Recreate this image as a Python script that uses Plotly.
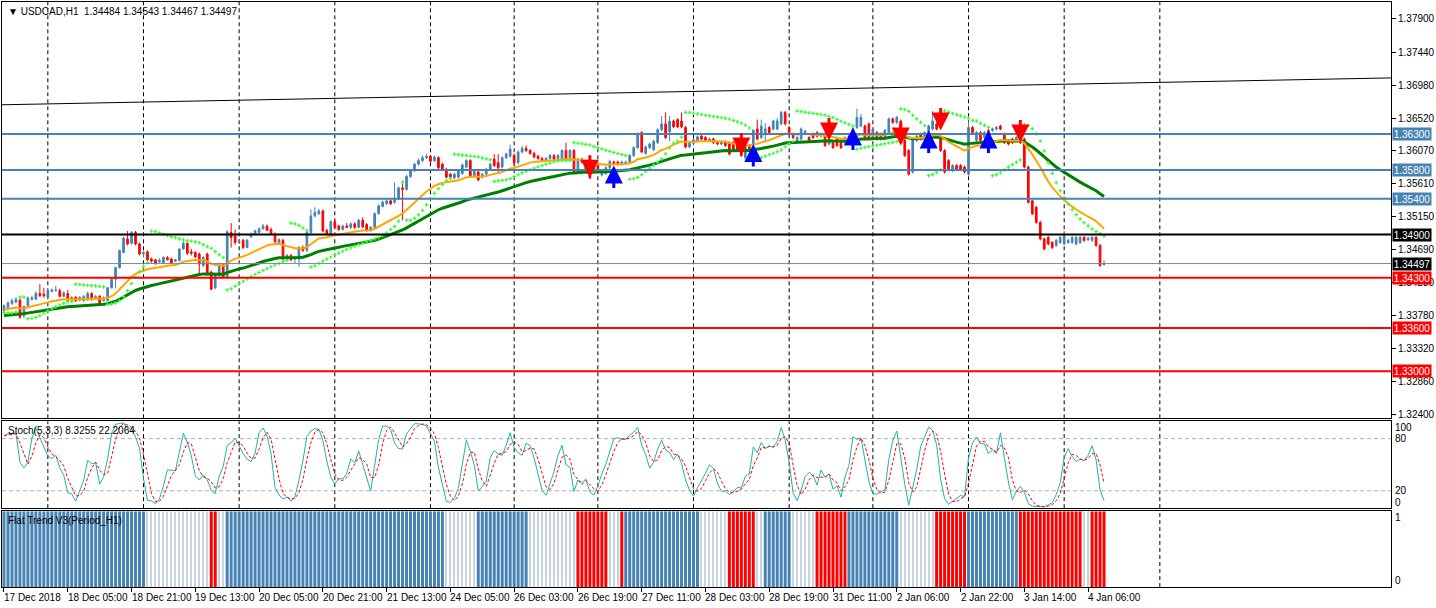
import plotly.graph_objects as go

# ---------------- data (USDCAD H1) ----------------
opens = [
1.3384,1.3388,1.3394,1.3396,1.3399,1.3377,1.3391,1.3400,1.3400,1.3408,
1.3407,1.3403,1.3411,1.3412,1.3412,1.3404,1.3408,1.3402,1.3403,1.3399,
1.3398,1.3399,1.3408,1.3401,1.3404,1.3398,1.3398,1.3416,1.3428,1.3444,
1.3465,1.3484,1.3478,1.3493,1.3477,1.3463,1.3466,1.3456,1.3455,1.3452,
1.3450,1.3458,1.3456,1.3453,1.3454,1.3470,1.3478,1.3466,1.3465,1.3463,
1.3447,1.3463,1.3438,1.3416,1.3433,1.3448,1.3431,1.3493,1.3488,1.3479,
1.3482,1.3472,1.3487,1.3491,1.3493,1.3498,1.3502,1.3497,1.3491,1.3477,
1.3482,1.3456,1.3461,1.3456,1.3456,1.3472,1.3468,1.3493,1.3516,1.3519,
1.3523,1.3496,1.3491,1.3508,1.3502,1.3497,1.3502,1.3500,1.3505,1.3500,
1.3510,1.3504,1.3496,1.3500,1.3519,1.3529,1.3533,1.3537,1.3535,1.3540,
1.3555,1.3553,1.3571,1.3579,1.3588,1.3593,1.3597,1.3599,1.3593,1.3597,
1.3588,1.3581,1.3574,1.3569,1.3570,1.3575,1.3584,1.3593,1.3572,1.3577,
1.3570,1.3574,1.3581,1.3595,1.3590,1.3584,1.3597,1.3599,1.3600,1.3590,
1.3605,1.3610,1.3607,1.3603,1.3599,1.3596,1.3593,1.3596,1.3600,1.3596,
1.3595,1.3607,1.3595,1.3607,1.3577,1.3595,1.3591,1.3588,1.3586,1.3586,
1.3573,1.3575,1.3583,1.3591,1.3591,1.3588,1.3589,1.3591,1.3600,1.3611,
1.3632,1.3603,1.3611,1.3608,1.3618,1.3636,1.3644,1.3633,1.3648,1.3650,
1.3648,1.3639,1.3612,1.3617,1.3621,1.3627,1.3625,1.3621,1.3623,1.3618,
1.3616,1.3619,1.3618,1.3618,1.3616,1.3623,1.3597,1.3614,1.3616,1.3637,
1.3625,1.3632,1.3639,1.3637,1.3637,1.3644,1.3660,1.3639,1.3630,1.3621,
1.3623,1.3632,1.3625,1.3630,1.3632,1.3627,1.3630,1.3616,1.3618,1.3623,
1.3621,1.3618,1.3627,1.3627,1.3639,1.3641,1.3641,1.3644,1.3625,1.3632,
1.3630,1.3623,1.3632,1.3651,1.3646,1.3648,1.3621,1.3607,1.3577,1.3621,
1.3630,1.3627,1.3627,1.3637,1.3644,1.3625,1.3607,1.3593,1.3579,1.3586,
1.3586,1.3584,1.3574,1.3639,1.3621,1.3632,1.3625,1.3635,1.3635,1.3637,
1.3641,1.3630,1.3621,1.3623,1.3621,1.3625,1.3623,1.3584,1.3537,1.3528,
1.3507,1.3484,1.3486,1.3479,1.3475,1.3479,1.3477,1.3479,1.3479,1.3477,
1.3479,1.3486,1.3483,1.3482,1.3486,1.3475,1.34484]

highs = [
1.3393,1.3397,1.3401,1.3403,1.3401,1.3391,1.3404,1.3405,1.3411,1.3421,
1.3416,1.3413,1.3415,1.3419,1.3415,1.3411,1.3413,1.3404,1.3404,1.3404,
1.3406,1.3411,1.3410,1.3406,1.3406,1.3404,1.3417,1.3430,1.3445,1.3469,
1.3487,1.3495,1.3495,1.3495,1.3479,1.3467,1.3468,1.3458,1.3456,1.3457,
1.3460,1.3460,1.3458,1.3456,1.3471,1.3481,1.3480,1.3470,1.3467,1.3465,
1.3460,1.3465,1.3440,1.3436,1.3451,1.3450,1.3496,1.3506,1.3497,1.3484,
1.3484,1.3484,1.3493,1.3497,1.3500,1.3505,1.3504,1.3500,1.3493,1.3485,
1.3484,1.3463,1.3463,1.3460,1.3474,1.3475,1.3495,1.3525,1.3528,1.3526,
1.3525,1.3498,1.3510,1.3511,1.3504,1.3504,1.3506,1.3507,1.3507,1.3512,
1.3514,1.3506,1.3502,1.3521,1.3532,1.3537,1.3540,1.3539,1.3563,1.3557,
1.3565,1.3573,1.3581,1.3590,1.3596,1.3600,1.3602,1.3601,1.3600,1.3599,
1.3590,1.3583,1.3576,1.3576,1.3580,1.3589,1.3595,1.3595,1.3580,1.3579,
1.3576,1.3583,1.3590,1.3602,1.3602,1.3599,1.3604,1.3615,1.3603,1.3607,
1.3613,1.3614,1.3609,1.3605,1.3601,1.3598,1.3598,1.3602,1.3602,1.3602,
1.3609,1.3618,1.3609,1.3609,1.3597,1.3597,1.3593,1.3590,1.3588,1.3588,
1.3579,1.3585,1.3594,1.3593,1.3593,1.3593,1.3593,1.3602,1.3613,1.3632,
1.3634,1.3614,1.3618,1.3622,1.3638,1.3655,1.3660,1.3655,1.3650,1.3652,
1.3660,1.3641,1.3619,1.3624,1.3628,1.3629,1.3627,1.3625,1.3625,1.3620,
1.3620,1.3621,1.3620,1.3620,1.3618,1.3625,1.3616,1.3616,1.3637,1.3650,
1.3650,1.3645,1.3641,1.3650,1.3652,1.3662,1.3662,1.3641,1.3632,1.3627,
1.3639,1.3636,1.3627,1.3632,1.3634,1.3632,1.3632,1.3625,1.3620,1.3625,
1.3623,1.3627,1.3629,1.3639,1.3665,1.3658,1.3643,1.3646,1.3639,1.3634,
1.3632,1.3637,1.3653,1.3653,1.3655,1.3650,1.3623,1.3609,1.3625,1.3629,
1.3632,1.3634,1.3643,1.3662,1.3646,1.3627,1.3609,1.3595,1.3588,1.3588,
1.3588,1.3586,1.3648,1.3641,1.3634,1.3634,1.3634,1.3637,1.3639,1.3641,
1.3643,1.3632,1.3623,1.3625,1.3627,1.3627,1.3625,1.3586,1.3539,1.3530,
1.3509,1.3486,1.3488,1.3481,1.3484,1.3488,1.3495,1.3484,1.3488,1.3488,
1.3488,1.3488,1.3487,1.3488,1.3488,1.3477,1.34543]

lows = [
1.3381,1.3386,1.3392,1.3395,1.3373,1.3374,1.3389,1.3398,1.3399,1.3403,
1.3402,1.3402,1.3410,1.3411,1.3403,1.3403,1.3397,1.3397,1.3396,1.3397,
1.3397,1.3398,1.3398,1.3399,1.3393,1.3397,1.3397,1.3415,1.3415,1.3443,
1.3464,1.3475,1.3476,1.3475,1.3461,1.3459,1.3453,1.3451,1.3448,1.3451,
1.3449,1.3454,1.3449,1.3452,1.3453,1.3469,1.3462,1.3461,1.3457,1.3433,
1.3445,1.3433,1.3413,1.3414,1.3431,1.3429,1.3429,1.3472,1.3476,1.3477,
1.3470,1.3471,1.3485,1.3489,1.3492,1.3497,1.3495,1.3490,1.3478,1.3476,
1.3454,1.3454,1.3453,1.3450,1.3445,1.3466,1.3466,1.3491,1.3514,1.3517,
1.3493,1.3489,1.3489,1.3498,1.3495,1.3496,1.3499,1.3498,1.3498,1.3499,
1.3499,1.3494,1.3494,1.3499,1.3518,1.3528,1.3531,1.3531,1.3533,1.3538,
1.3510,1.3551,1.3569,1.3577,1.3586,1.3591,1.3595,1.3590,1.3591,1.3581,
1.3579,1.3568,1.3568,1.3567,1.3568,1.3573,1.3582,1.3570,1.3570,1.3564,
1.3568,1.3572,1.3579,1.3584,1.3575,1.3582,1.3595,1.3597,1.3586,1.3588,
1.3603,1.3605,1.3601,1.3596,1.3594,1.3591,1.3591,1.3594,1.3593,1.3594,
1.3593,1.3593,1.3593,1.3575,1.3575,1.3589,1.3577,1.3567,1.3575,1.3579,
1.3571,1.3573,1.3581,1.3587,1.3586,1.3586,1.3587,1.3589,1.3598,1.3609,
1.3603,1.3601,1.3609,1.3606,1.3616,1.3634,1.3623,1.3620,1.3638,1.3638,
1.3638,1.3610,1.3610,1.3615,1.3619,1.3621,1.3619,1.3619,1.3616,1.3614,
1.3614,1.3612,1.3600,1.3605,1.3605,1.3598,1.3594,1.3605,1.3614,1.3621,
1.3623,1.3618,1.3630,1.3635,1.3635,1.3642,1.3642,1.3628,1.3623,1.3619,
1.3621,1.3630,1.3619,1.3623,1.3625,1.3625,1.3612,1.3614,1.3609,1.3612,
1.3609,1.3616,1.3619,1.3625,1.3637,1.3639,1.3621,1.3621,1.3623,1.3621,
1.3621,1.3621,1.3630,1.3644,1.3644,1.3616,1.3598,1.3572,1.3575,1.3619,
1.3621,1.3625,1.3625,1.3635,1.3635,1.3605,1.3575,1.3579,1.3577,1.3579,
1.3579,1.3575,1.3572,1.3630,1.3619,1.3619,1.3623,1.3616,1.3633,1.3635,
1.3635,1.3616,1.3614,1.3616,1.3619,1.3616,1.3582,1.3533,1.3517,1.3505,
1.3482,1.3468,1.3475,1.3470,1.3473,1.3477,1.3475,1.3477,1.3477,1.3475,
1.3477,1.3480,1.3481,1.3480,1.3473,1.3445,1.34467]

closes = [
1.3391,1.3395,1.3398,1.3400,1.3375,1.3390,1.3402,1.3402,1.3408,1.3405,
1.3405,1.3412,1.3413,1.3413,1.3404,1.3409,1.3398,1.3399,1.3398,1.3403,
1.3404,1.3408,1.3400,1.3404,1.3395,1.3402,1.3416,1.3428,1.3444,1.3468,
1.3485,1.3477,1.3493,1.3477,1.3463,1.3465,1.3455,1.3453,1.3450,1.3454,
1.3458,1.3455,1.3450,1.3455,1.3470,1.3478,1.3464,1.3464,1.3459,1.3449,
1.3458,1.3435,1.3414,1.3434,1.3449,1.3431,1.3494,1.3486,1.3479,1.3481,
1.3472,1.3482,1.3490,1.3495,1.3498,1.3502,1.3496,1.3491,1.3480,1.3483,
1.3456,1.3461,1.3455,1.3457,1.3472,1.3468,1.3493,1.3516,1.3521,1.3523,
1.3495,1.3491,1.3508,1.3500,1.3497,1.3502,1.3500,1.3505,1.3500,1.3510,
1.3501,1.3496,1.3500,1.3519,1.3530,1.3535,1.3537,1.3533,1.3540,1.3555,
1.3553,1.3571,1.3579,1.3588,1.3593,1.3597,1.3599,1.3592,1.3598,1.3583,
1.3581,1.3570,1.3570,1.3574,1.3578,1.3587,1.3593,1.3572,1.3578,1.3566,
1.3574,1.3581,1.3588,1.3586,1.3583,1.3597,1.3602,1.3609,1.3590,1.3605,
1.3610,1.3607,1.3603,1.3598,1.3596,1.3593,1.3596,1.3600,1.3595,1.3600,
1.3607,1.3595,1.3607,1.3577,1.3595,1.3591,1.3579,1.3569,1.3577,1.3581,
1.3577,1.3583,1.3592,1.3589,1.3588,1.3591,1.3591,1.3600,1.3611,1.3630,
1.3605,1.3612,1.3616,1.3620,1.3636,1.3644,1.3625,1.3648,1.3640,1.3640,
1.3640,1.3612,1.3617,1.3622,1.3626,1.3623,1.3621,1.3623,1.3618,1.3616,
1.3618,1.3614,1.3602,1.3607,1.3607,1.3600,1.3614,1.3607,1.3635,1.3623,
1.3641,1.3637,1.3632,1.3648,1.3648,1.3660,1.3644,1.3630,1.3625,1.3625,
1.3637,1.3634,1.3621,1.3625,1.3627,1.3630,1.3614,1.3623,1.3611,1.3614,
1.3611,1.3625,1.3621,1.3637,1.3653,1.3653,1.3623,1.3623,1.3637,1.3623,
1.3623,1.3635,1.3651,1.3646,1.3653,1.3618,1.3600,1.3574,1.3623,1.3627,
1.3623,1.3632,1.3641,1.3648,1.3637,1.3607,1.3577,1.3581,1.3586,1.3581,
1.3581,1.3577,1.3639,1.3632,1.3632,1.3621,1.3632,1.3618,1.3637,1.3639,
1.3637,1.3618,1.3616,1.3618,1.3625,1.3618,1.3584,1.3535,1.3519,1.3507,
1.3484,1.3470,1.3477,1.3472,1.3482,1.3486,1.3488,1.3482,1.3486,1.3486,
1.3486,1.3482,1.3485,1.3486,1.3475,1.3447,1.34497]

# time-axis labels (bar index -> label) and day separators (bar index)
label_idx = [0, 16, 32, 48, 64, 80, 96, 112, 128, 144, 160, 176, 192, 208, 224, 240, 256, 272]
label_text = ["17 Dec 2018", "18 Dec 05:00", "18 Dec 21:00", "19 Dec 13:00", "20 Dec 05:00",
              "20 Dec 21:00", "21 Dec 13:00", "24 Dec 05:00", "26 Dec 03:00", "26 Dec 19:00",
              "27 Dec 11:00", "28 Dec 03:00", "28 Dec 19:00", "31 Dec 11:00", "2 Jan 06:00",
              "2 Jan 22:00", "3 Jan 14:00", "4 Jan 06:00"]
day_start_idx = [11, 35, 59, 83, 107, 128, 149, 173, 197, 218, 242, 266, 290]

price_ticks = [1.37900, 1.37440, 1.36980, 1.36520, 1.36070, 1.35610, 1.35150,
               1.34690, 1.34230, 1.33780, 1.33320, 1.32860, 1.32400]

blue_levels = [1.36300, 1.35800, 1.35400]
black_levels = [1.34900]
red_levels = [1.34300, 1.33600, 1.33000]
bid_price = 1.34497

trend_x = [-0.5, 348]
trend_y = [1.36706, 1.37080]

up_arrow_idx = [153, 188, 213, 232, 247]
up_arrow_price = [1.3586, 1.3616, 1.3639, 1.3635, 1.3635]
down_arrow_idx = [147, 185, 207, 225, 235, 255]
down_arrow_price = [1.3569, 1.3600, 1.3621, 1.3614, 1.3635, 1.3618]

# Flat Trend V3 state per bar, run-length: b = up (blue), r = down (red), w = flat
trend_runs = [("b", 36), ("w", 16), ("r", 2), ("w", 2), ("b", 55), ("w", 8), ("b", 13),
              ("w", 12), ("r", 8), ("w", 3), ("r", 1), ("b", 19), ("w", 7), ("r", 7),
              ("w", 2), ("b", 7), ("w", 6), ("r", 8), ("b", 13), ("w", 9), ("r", 8),
              ("b", 13), ("r", 16), ("w", 2), ("r", 4)]

fast_period, slow_period = 21, 50
fast_seed, slow_seed = 1.3385, 1.3377

# ---------------- indicator calculations ----------------
n = len(closes)
assert len(opens) == len(highs) == len(lows) == n
x_idx = list(range(n))


def ema(vals, period, seed):
    a = 2.0 / (period + 1)
    out, prev = [], seed
    for v in vals:
        prev = prev + a * (v - prev)
        out.append(prev)
    return out


def psar(h, l, step=0.02, amax=0.2):
    out = [l[0]]
    bull, af, ep = True, step, h[0]
    for i in range(1, len(h)):
        prev = out[-1]
        s = prev + af * (ep - prev)
        if bull:
            s = min(s, l[i - 1], l[max(0, i - 2)])
            if l[i] < s:
                bull, s, ep, af = False, ep, l[i], step
            elif h[i] > ep:
                ep, af = h[i], min(af + step, amax)
        else:
            s = max(s, h[i - 1], h[max(0, i - 2)])
            if h[i] > s:
                bull, s, ep, af = True, ep, h[i], step
            elif l[i] < ep:
                ep, af = l[i], min(af + step, amax)
        out.append(s)
    return out


def stoch(h, l, c, kp=5, slow=3, dp=3):
    num, den = [], []
    for i in range(len(c)):
        lo = min(l[max(0, i - kp + 1):i + 1])
        hi = max(h[max(0, i - kp + 1):i + 1])
        num.append(c[i] - lo)
        den.append(hi - lo)
    k = []
    for i in range(len(c)):
        s = sum(num[max(0, i - slow + 1):i + 1])
        d = sum(den[max(0, i - slow + 1):i + 1])
        k.append(100 * s / d if d > 0 else 50)
    dd = []
    for i in range(len(c)):
        w = k[max(0, i - dp + 1):i + 1]
        dd.append(sum(w) / len(w))
    return k, dd


ema_fast = ema(closes, fast_period, fast_seed)
ema_slow = ema(closes, slow_period, slow_seed)
sar = psar(highs, lows)
stk, std = stoch(highs, lows, closes)

codes = []
for c, cnt in trend_runs:
    codes.extend([c] * cnt)

# ---------------- figure ----------------
BLUE = "#4682B4"
RED = "#FF0000"
FONT = "Liberation Sans"

fig = go.Figure()

fig.add_trace(go.Candlestick(
    x=x_idx, open=opens, high=highs, low=lows, close=closes,
    increasing=dict(line=dict(color=BLUE, width=1), fillcolor=BLUE),
    decreasing=dict(line=dict(color=RED, width=1), fillcolor=RED),
    whiskerwidth=0, xaxis="x", yaxis="y", hoverinfo="skip"))

fig.add_trace(go.Scatter(x=x_idx, y=ema_slow, mode="lines",
                         line=dict(color="#008000", width=3), xaxis="x", yaxis="y"))
fig.add_trace(go.Scatter(x=x_idx, y=ema_fast, mode="lines",
                         line=dict(color="#FFA500", width=2), xaxis="x", yaxis="y"))
fig.add_trace(go.Scatter(x=x_idx, y=sar, mode="markers",
                         marker=dict(symbol="cross", size=3, color="#33FF33"), xaxis="x", yaxis="y"))

# stochastic
fig.add_trace(go.Scatter(x=x_idx, y=stk, mode="lines",
                         line=dict(color="#20B2AA", width=1), xaxis="x2", yaxis="y2"))
fig.add_trace(go.Scatter(x=x_idx, y=std, mode="lines",
                         line=dict(color=RED, width=1, dash="3px,2px"), xaxis="x2", yaxis="y2"))

# flat trend histogram
bx = [i for i in x_idx if codes[i] == "b"]
rx = [i for i in x_idx if codes[i] == "r"]
wx = [i for i in x_idx if codes[i] == "w"]
fig.add_trace(go.Bar(x=bx, y=[1] * len(bx), marker=dict(color=BLUE, line=dict(width=0)),
                     width=0.75, xaxis="x3", yaxis="y3"))
fig.add_trace(go.Bar(x=rx, y=[1] * len(rx), marker=dict(color=RED, line=dict(width=0)),
                     width=0.75, xaxis="x3", yaxis="y3"))
fig.add_trace(go.Bar(x=wx, y=[1] * len(wx), marker=dict(color="#C8D4E0", line=dict(width=0)),
                     width=0.25, xaxis="x3", yaxis="y3"))

# ---------------- shapes ----------------
shapes = []
for d in day_start_idx:
    for yr in ("y domain", "y2 domain", "y3 domain"):
        shapes.append(dict(type="line", xref="x", yref=yr, x0=d, x1=d, y0=0, y1=1,
                           line=dict(color="black", width=1, dash="4px,3px"), layer="below"))
for lv in (80, 20):
    shapes.append(dict(type="line", xref="x2 domain", yref="y2", x0=0, x1=1, y0=lv, y1=lv,
                       line=dict(color="#B0B0B0", width=1, dash="4px,3px"), layer="below"))
shapes.append(dict(type="line", xref="x domain", yref="y", x0=0, x1=1, y0=bid_price, y1=bid_price,
                   line=dict(color="#778899", width=1)))
for lv in blue_levels:
    shapes.append(dict(type="line", xref="x domain", yref="y", x0=0, x1=1, y0=lv, y1=lv,
                       line=dict(color=BLUE, width=2)))
for lv in black_levels:
    shapes.append(dict(type="line", xref="x domain", yref="y", x0=0, x1=1, y0=lv, y1=lv,
                       line=dict(color="black", width=2)))
for lv in red_levels:
    shapes.append(dict(type="line", xref="x domain", yref="y", x0=0, x1=1, y0=lv, y1=lv,
                       line=dict(color=RED, width=2)))
shapes.append(dict(type="line", xref="x", yref="y", x0=trend_x[0], x1=trend_x[1],
                   y0=trend_y[0], y1=trend_y[1], line=dict(color="black", width=1)))

# ---------------- annotations ----------------
ann = []
ann.append(dict(xref="paper", yref="paper", x=0, y=1, xanchor="left", yanchor="top",
                xshift=4, yshift=-2, showarrow=False,
                text="\u25BC USDCAD,H1  1.34484 1.34543 1.34467 1.34497",
                font=dict(family=FONT, size=10, color="black")))
ann.append(dict(xref="paper", yref="y2 domain", x=0, y=1, xanchor="left", yanchor="top",
                xshift=4, yshift=-2, showarrow=False, text="Stoch(5,3,3) 8.3255 22.2064",
                font=dict(family=FONT, size=10, color="black")))
ann.append(dict(xref="paper", yref="y3 domain", x=0, y=1, xanchor="left", yanchor="top",
                xshift=4, yshift=-2, showarrow=False, text="Flat Trend V3(Period_H1)",
                font=dict(family=FONT, size=10, color="black")))

for i, t in zip(label_idx, label_text):
    ann.append(dict(xref="x3", yref="paper", x=i, y=0, xanchor="left", yanchor="top",
                    xshift=-2, yshift=-3, showarrow=False, text=t,
                    font=dict(family=FONT, size=10, color="black")))

for txt, yv in (("100", 93), ("80", 80), ("20", 20), ("0", 7)):
    ann.append(dict(xref="paper", yref="y2", x=1, y=yv, xanchor="left", yanchor="middle",
                    xshift=2, showarrow=False, text=txt,
                    font=dict(family=FONT, size=10, color="black")))
for txt, yv in (("1", 0.91), ("0", 0.09)):
    ann.append(dict(xref="paper", yref="y3", x=1, y=yv, xanchor="left", yanchor="middle",
                    xshift=2, showarrow=False, text=txt,
                    font=dict(family=FONT, size=10, color="black")))

boxes = [(lv, BLUE) for lv in blue_levels] + [(lv, "black") for lv in black_levels] + \
        [(bid_price, "black")] + [(lv, RED) for lv in red_levels]
for lv, col in boxes:
    ann.append(dict(xref="paper", yref="y", x=1, y=lv, xanchor="left", yanchor="middle",
                    xshift=1, showarrow=False, text=f"{lv:.5f}", bgcolor=col,
                    width=38, height=12, align="center", borderpad=0,
                    font=dict(family=FONT, size=10, color="white")))

for i, p in zip(up_arrow_idx, up_arrow_price):
    ann.append(dict(xref="x", yref="y", x=i, y=p, ax=0, ay=24, showarrow=True,
                    arrowhead=2, arrowsize=1.2, arrowwidth=3, arrowcolor="#0000FF", text=""))
for i, p in zip(down_arrow_idx, down_arrow_price):
    ann.append(dict(xref="x", yref="y", x=i, y=p, ax=0, ay=-24, showarrow=True,
                    arrowhead=2, arrowsize=1.2, arrowwidth=3, arrowcolor=RED, text=""))

# ---------------- layout ----------------
axis_common = dict(showline=True, mirror=True, linecolor="black", linewidth=1,
                   showgrid=False, zeroline=False)
xr = [-0.5, 348]

fig.update_layout(
    width=1436, height=608,
    margin=dict(l=1, r=41, t=1, b=21),
    paper_bgcolor="white", plot_bgcolor="white",
    showlegend=False, barmode="overlay", boxgap=0.4,
    font=dict(family=FONT, size=10, color="black"),
    shapes=shapes, annotations=ann,
    xaxis=dict(domain=[0, 1], anchor="y", range=xr, showticklabels=False, ticks="",
               rangeslider=dict(visible=False), **axis_common),
    xaxis2=dict(domain=[0, 1], anchor="y2", range=xr, matches="x", showticklabels=False,
                ticks="", **axis_common),
    xaxis3=dict(domain=[0, 1], anchor="y3", range=xr, matches="x", showticklabels=False,
                ticks="outside", ticklen=4, tickcolor="black", tickvals=label_idx, **axis_common),
    yaxis=dict(domain=[0.2884, 1.0], anchor="x", side="right", range=[1.323444, 1.381361],
               tickvals=price_ticks, ticktext=[f"{v:.5f}" for v in price_ticks],
               ticks="outside", ticklen=4, tickcolor="black",
               tickfont=dict(family=FONT, size=10, color="black"), **axis_common),
    yaxis2=dict(domain=[0.1348, 0.2833], anchor="x2", side="right", range=[0, 100],
                showticklabels=False, ticks="", **axis_common),
    yaxis3=dict(domain=[0.0, 0.1297], anchor="x3", side="right", range=[0, 1],
                showticklabels=False, ticks="", **axis_common),
)

fig.write_html("out.html", config={"displayModeBar": False},
               post_script="document.body.style.margin='0px';")
